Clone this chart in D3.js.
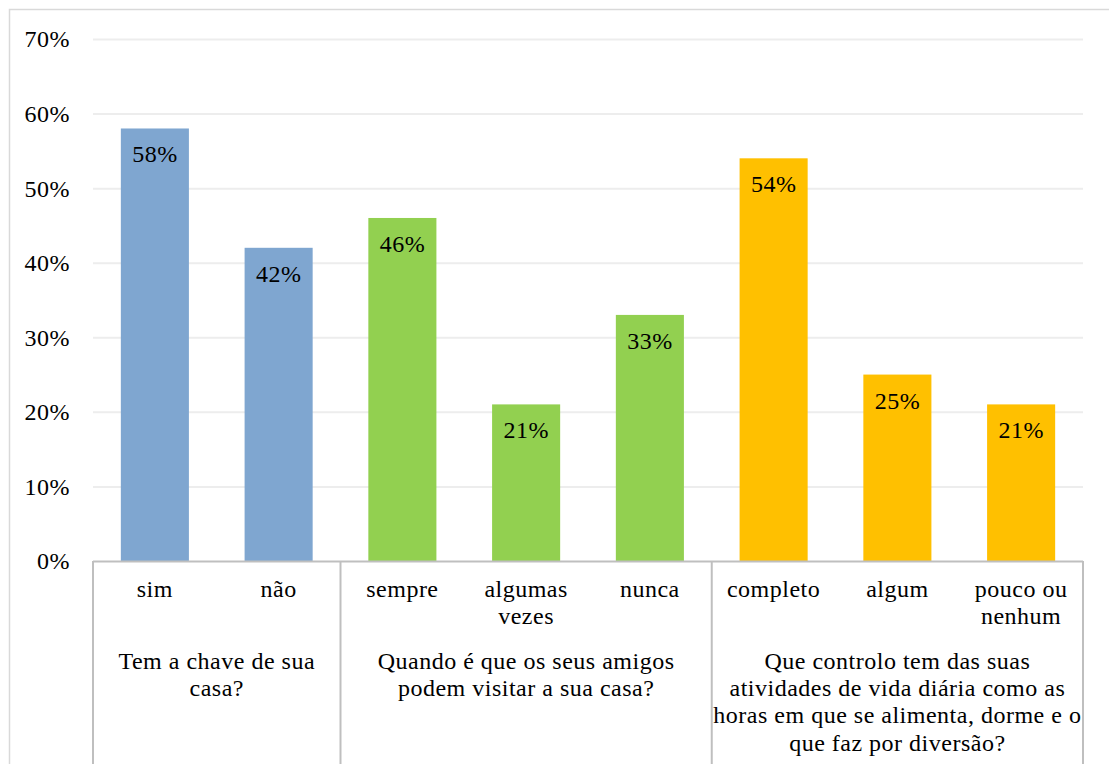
<!DOCTYPE html>
<html>
<head>
<meta charset="utf-8">
<script src="https://cdn.jsdelivr.net/npm/d3@7"></script>
<style>
  body { margin: 0; background: #fff; }
  svg { display: block; }
</style>
</head>
<body>
<div id="chart"></div>
<script>
// categories + values (in %)
const categories = ["sim", "não", "sempre", "algumas vezes", "nunca", "completo", "algum", "pouco ou nenhum"];
const catLines = [["sim"], ["não"], ["sempre"], ["algumas", "vezes"], ["nunca"], ["completo"], ["algum"], ["pouco ou", "nenhum"]];
const values = [58, 42, 46, 21, 33, 54, 25, 21];
const groupOf = [0, 0, 1, 1, 1, 2, 2, 2];
const groupLines = [
    ["Tem a chave de sua", "casa?"],
    ["Quando é que os seus amigos", "podem visitar a sua casa?"],
    ["Que controlo tem das suas", "atividades de vida diária como as", "horas em que se alimenta, dorme e o", "que faz por diversão?"]
];
const groupColors = ["#7FA6D0", "#92D050", "#FFC000"];
const yTicks = [0, 10, 20, 30, 40, 50, 60, 70];

const FONT = "Liberation Serif";
const FS = "24px";
const LS = "0.5px";
const W = 1109, H = 764;
const plot = { left: 93, right: 1083, top: 39, bottom: 561 };

const svg = d3.select("#chart").append("svg")
    .attr("width", W).attr("height", H);

// chart border
svg.append("rect")
    .attr("x", 9.5).attr("y", 9.5)
    .attr("width", W + 10).attr("height", H + 10)
    .attr("fill", "none").attr("stroke", "#d9d9d9").attr("stroke-width", 1.5);

const x = d3.scaleBand()
    .domain(categories)
    .range([plot.left, plot.right])
    .paddingInner(0.45)
    .paddingOuter(0.225);

const y = d3.scaleLinear().domain([0, 70]).range([plot.bottom, plot.top]);

// gridlines + y labels
svg.append("g")
    .attr("transform", `translate(${plot.left},0)`)
    .call(d3.axisLeft(y).tickValues(yTicks).tickFormat(d => d + "%").tickSize(-(plot.right - plot.left)).tickPadding(23))
    .call(ax => ax.attr("font-family", FONT))
    .call(ax => ax.select(".domain").remove())
    .call(ax => ax.selectAll(".tick line").attr("stroke", d => d === 0 ? "none" : "#ededed").attr("stroke-width", 2))
    .call(ax => ax.selectAll(".tick text")
        .attr("dy", "0.33em")
        .attr("font-family", FONT).attr("letter-spacing", LS)
        .attr("font-size", FS).attr("fill", "#000"));

// bars
svg.selectAll(".bar")
    .data(values)
    .join("rect")
    .attr("class", "bar")
    .attr("x", (d, i) => x(categories[i]))
    .attr("y", d => y(d))
    .attr("width", x.bandwidth())
    .attr("height", d => y(0) - y(d))
    .attr("fill", (d, i) => groupColors[groupOf[i]]);

// data labels
svg.selectAll(".val")
    .data(values)
    .join("text")
    .attr("class", "val")
    .attr("x", (d, i) => x(categories[i]) + x.bandwidth() / 2)
    .attr("y", d => y(d) + 34)
    .attr("text-anchor", "middle")
    .attr("font-family", FONT).attr("letter-spacing", LS)
    .attr("font-size", FS)
    .attr("fill", "#000")
    .text(d => d + "%");

// category axis (multi-level)
const axisCol = "#bfbfbf";
const step = x.step();
const bounds = [0, 2, 5, 8].map(k => plot.left + k * step);

svg.append("line")
    .attr("x1", plot.left).attr("x2", plot.right)
    .attr("y1", plot.bottom + 0.5).attr("y2", plot.bottom + 0.5)
    .attr("stroke", axisCol).attr("stroke-width", 2);

svg.selectAll(".sep")
    .data(bounds)
    .join("line")
    .attr("class", "sep")
    .attr("x1", d => d).attr("x2", d => d)
    .attr("y1", plot.bottom).attr("y2", H)
    .attr("stroke", axisCol).attr("stroke-width", 2);

const lineH = 27.4;

catLines.forEach((lines, i) => {
    const cx = x(categories[i]) + x.bandwidth() / 2;
    lines.forEach((t, j) => {
        svg.append("text")
            .attr("x", cx).attr("y", 597 + j * lineH)
            .attr("text-anchor", "middle")
            .attr("font-family", FONT).attr("letter-spacing", LS)
            .attr("font-size", FS).attr("fill", "#000")
            .text(t);
    });
});

groupLines.forEach((lines, g) => {
    const cx = (bounds[g] + bounds[g + 1]) / 2;
    lines.forEach((t, j) => {
        svg.append("text")
            .attr("x", cx).attr("y", 668.5 + j * lineH)
            .attr("text-anchor", "middle")
            .attr("font-family", FONT).attr("letter-spacing", LS)
            .attr("font-size", FS).attr("fill", "#000")
            .text(t);
    });
});
</script>
</body>
</html>
